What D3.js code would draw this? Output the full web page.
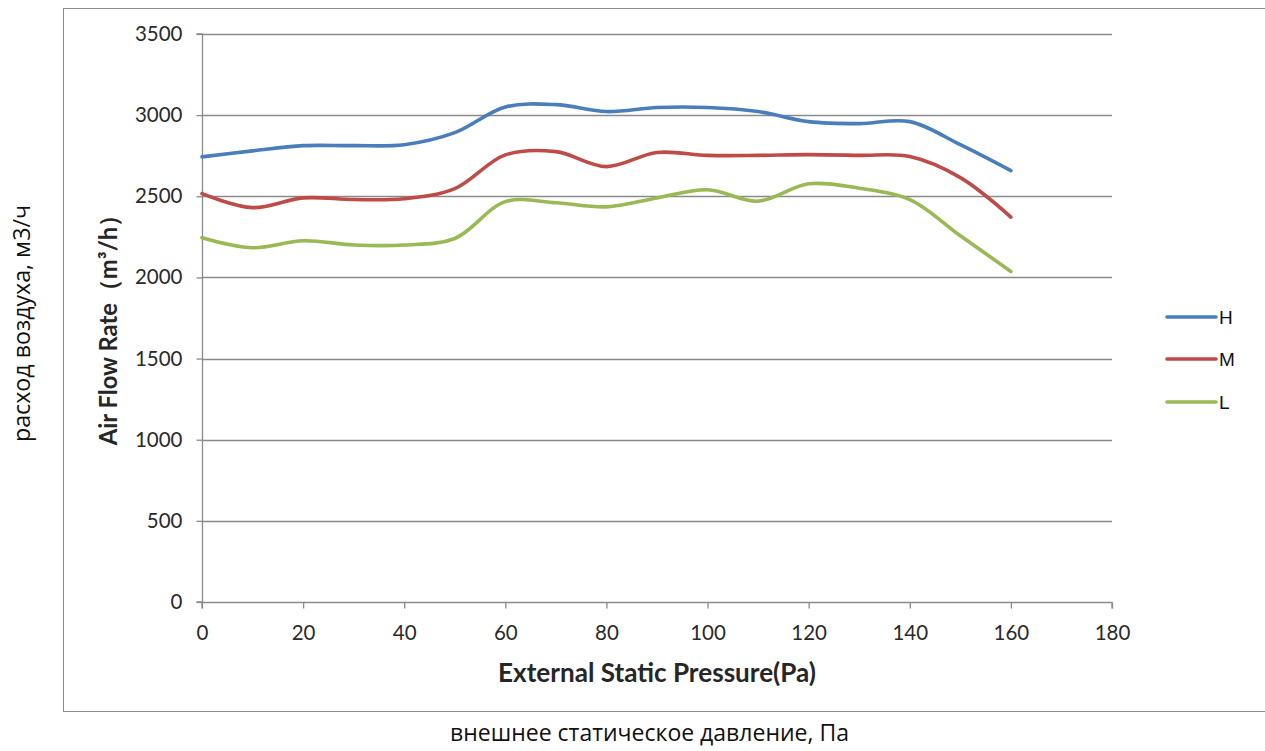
<!DOCTYPE html>
<html><head><meta charset="utf-8">
<script src="https://cdn.jsdelivr.net/npm/d3@7"></script>
<style>body{margin:0;background:#fff}</style>
</head><body>
<svg id="c" width="1265" height="751"></svg>
<script>
const pressure = [0,10,20,30,40,50,60,70,80,90,100,110,120,130,140,150,160];
const seriesH = [2743,2780,2812,2812,2818,2892,3050,3065,3022,3047,3047,3022,2960,2948,2960,2818,2658];
const seriesM = [2516,2430,2490,2480,2485,2547,2755,2775,2683,2770,2752,2752,2757,2752,2745,2615,2372];
const seriesL = [2245,2183,2226,2200,2200,2240,2467,2460,2435,2490,2540,2470,2577,2550,2480,2257,2037];
const seriesNames = ["H","M","L"];
const seriesColors = ["#4a7ebb","#be4b48","#98b954"];
const xTicks = [0,20,40,60,80,100,120,140,160,180];
const yTicks = [0,500,1000,1500,2000,2500,3000,3500];

const svg = d3.select("#c");
const L = 202, R = 1112, T = 34, B = 602;
const x = d3.scaleLinear().domain([0,180]).range([L,R]);
const y = d3.scaleLinear().domain([0,3500]).range([B,T]);

function fit(sel, target){
  const base = parseFloat(sel.attr("font-size"));
  const w = sel.node().getComputedTextLength();
  if (w > 0) sel.attr("font-size", (base*target/w).toFixed(2)+"px");
  return sel;
}

// outer frame
svg.append("rect").attr("x",63.5).attr("y",8.5).attr("width",1210).attr("height",703)
  .attr("fill","none").attr("stroke","#8c8c8c").attr("stroke-width",1);

// gridlines
svg.append("g").selectAll("line").data(yTicks.filter(d=>d>0)).join("line")
  .attr("x1",L).attr("x2",R).attr("y1",d=>Math.round(y(d))+0.5).attr("y2",d=>Math.round(y(d))+0.5)
  .attr("stroke","#8a8a8a").attr("stroke-width",1.3);

// axes
const gx = svg.append("g").attr("transform",`translate(0,${Math.round(B)+0.5})`)
  .call(d3.axisBottom(x).tickValues(xTicks).tickSize(6).tickPadding(17).tickFormat(d3.format("d")));
const gy = svg.append("g").attr("transform",`translate(${L+0.5},0)`)
  .call(d3.axisLeft(y).tickValues(yTicks).tickSize(6).tickPadding(14).tickFormat(d3.format("d")));
[gx,gy].forEach(g=>{
  g.select(".domain").attr("stroke","#8a8a8a").attr("stroke-width",1.3);
  g.selectAll(".tick line").attr("stroke","#8a8a8a").attr("stroke-width",1.3);
  g.selectAll(".tick text").attr("font-family","Lato, 'Open Sans', sans-serif").attr("font-size","20.5px").attr("fill","#2a2a2a");
});
gy.select(".domain").attr("d",`M-6,${B}H0V${T}H-6`);
gx.select(".domain").attr("d",`M${L},6V0H${R}V6`);

// lines
const line = d3.line().x((d,i)=>x(pressure[i])).y(d=>y(d)).curve(d3.curveCatmullRom.alpha(0.5));
[seriesH, seriesM, seriesL].forEach((s,k)=>{
  svg.append("path").datum(s).attr("d",line).attr("fill","none")
    .attr("stroke",seriesColors[k]).attr("stroke-width",3.6).attr("stroke-linecap","round").attr("stroke-linejoin","round");
});

// legend
const legY = [317,359,402];
seriesNames.forEach((n,k)=>{
  svg.append("line").attr("x1",1167).attr("x2",1216).attr("y1",legY[k]).attr("y2",legY[k])
    .attr("stroke",seriesColors[k]).attr("stroke-width",3.6).attr("stroke-linecap","round");
  svg.append("text").attr("x",1219).attr("y",legY[k]+7).text(n)
    .attr("font-family","'Liberation Sans', Arial, sans-serif").attr("font-size","19px").attr("fill","#111");
});

// axis titles
fit(svg.append("text").attr("x",657).attr("y",682).attr("text-anchor","middle")
  .attr("font-family","Lato, sans-serif").attr("font-weight","bold").attr("font-size","20px").attr("fill","#262626")
  .text("External Static Pressure(Pa)"), 318);
fit(svg.append("text").attr("transform","translate(117,324) rotate(-90)").attr("text-anchor","middle")
  .attr("font-family","Lato, sans-serif").attr("font-weight","bold").attr("font-size","20px").attr("fill","#262626")
  .text("Air Flow Rate（m³/h）"), 242);

// russian labels
fit(svg.append("text").attr("x",649.5).attr("y",741).attr("text-anchor","middle")
  .attr("font-family","'Open Sans', sans-serif").attr("font-size","20px").attr("fill","#111")
  .text("внешнее статическое давление, Па"), 399);
fit(svg.append("text").attr("transform","translate(30,323.5) rotate(-90)").attr("text-anchor","middle")
  .attr("font-family","'Open Sans', sans-serif").attr("font-size","20px").attr("fill","#111")
  .text("расход воздуха, м3/ч"), 237);
</script>
</body></html>
